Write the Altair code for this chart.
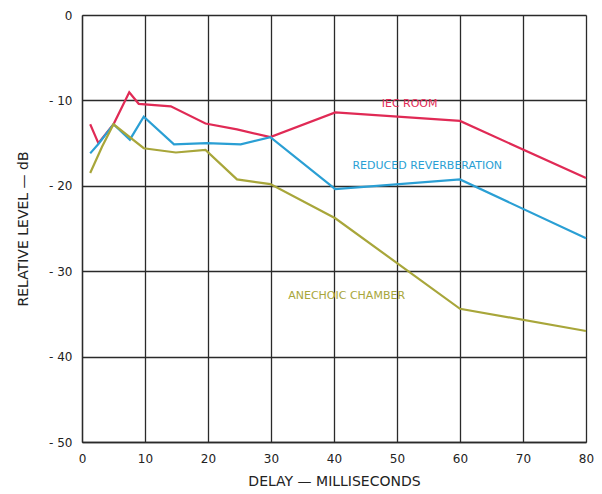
import altair as alt
import pandas as pd

# IEC ROOM
iec_x = [1.3, 2.6, 5.0, 7.5, 9.0, 14.1, 19.6, 24.6, 29.9, 40.2, 60.0, 80.0]
iec_y = [-12.8, -15.0, -12.8, -9.05, -10.4, -10.7, -12.7, -13.4, -14.3, -11.4, -12.4, -19.1]
# REDUCED REVERBERATION
red_x = [1.3, 2.6, 5.0, 7.6, 9.8, 14.6, 19.8, 25.2, 29.9, 40.2, 60.0, 80.0]
red_y = [-16.2, -15.1, -12.8, -14.6, -11.9, -15.15, -15.0, -15.15, -14.3, -20.4, -19.25, -26.15]
# ANECHOIC CHAMBER
ane_x = [1.3, 3.2, 5.0, 9.8, 14.9, 19.6, 24.6, 29.9, 40.2, 60.0, 80.0]
ane_y = [-18.5, -15.4, -12.8, -15.6, -16.1, -15.8, -19.25, -19.8, -23.8, -34.4, -37.0]

series_names = ["IEC ROOM", "REDUCED REVERBERATION", "ANECHOIC CHAMBER"]
series_colors = ["#e02a55", "#2a9fd4", "#a8a63a"]

label_x = [52.0, 54.8, 42.0]
label_y = [-10.4, -17.7, -32.9]

rows = []
for name, xs, ys in zip(series_names, [iec_x, red_x, ane_x], [iec_y, red_y, ane_y]):
    for x, y in zip(xs, ys):
        rows.append({"series": name, "delay": x, "level": y})
df = pd.DataFrame(rows)
labels = pd.DataFrame({"series": series_names, "delay": label_x, "level": label_y})

color_scale = alt.Scale(domain=series_names, range=series_colors)

x_enc = alt.X("delay:Q", scale=alt.Scale(domain=[0, 80], nice=False),
              axis=alt.Axis(values=list(range(0, 81, 10)), title="DELAY — MILLISECONDS",
                            grid=True, gridColor="#2a2a2a", gridWidth=1.3, gridOpacity=1,
                            domainColor="#2a2a2a", domainWidth=1.3, ticks=False,
                            labelFlush=False,
                            labelPadding=11, labelFont="DejaVu Sans", labelFontSize=12,
                            labelColor="#222", titleFont="DejaVu Sans", titleFontSize=14,
                            titleFontWeight="normal", titleColor="#222", titlePadding=10))
y_enc = alt.Y("level:Q", scale=alt.Scale(domain=[-50, 0], nice=False),
              axis=alt.Axis(values=list(range(-50, 1, 10)), title="RELATIVE LEVEL — dB",
                            labelExpr="datum.value == 0 ? '0' : '- ' + abs(datum.value)",
                            grid=True, gridColor="#2a2a2a", gridWidth=1.3, gridOpacity=1,
                            domainColor="#2a2a2a", domainWidth=1.3, ticks=False,
                            labelFlush=False,
                            labelPadding=10, labelFont="DejaVu Sans", labelFontSize=12,
                            labelColor="#222", titleFont="DejaVu Sans", titleFontSize=14,
                            titleFontWeight="normal", titleColor="#222", titlePadding=18))

lines = alt.Chart(df).mark_line(strokeWidth=2.2).encode(
    x=x_enc, y=y_enc,
    color=alt.Color("series:N", scale=color_scale, legend=None),
    detail="series:N",
)

texts = alt.Chart(labels).mark_text(font="DejaVu Sans", fontSize=11, align="center",
                                    baseline="middle").encode(
    x="delay:Q", y="level:Q",
    text="series:N",
    color=alt.Color("series:N", scale=color_scale, legend=None),
)

chart = alt.layer(lines, texts).properties(
    width=504, height=427,
    autosize=alt.AutoSizeParams(type="none"),
    padding={"left": 74, "top": 7, "right": 8, "bottom": 50},
).configure_view(stroke="#2a2a2a", strokeWidth=1.3).configure(background="white")

chart.save("out.html", embed_options={"renderer": "svg", "actions": False})
